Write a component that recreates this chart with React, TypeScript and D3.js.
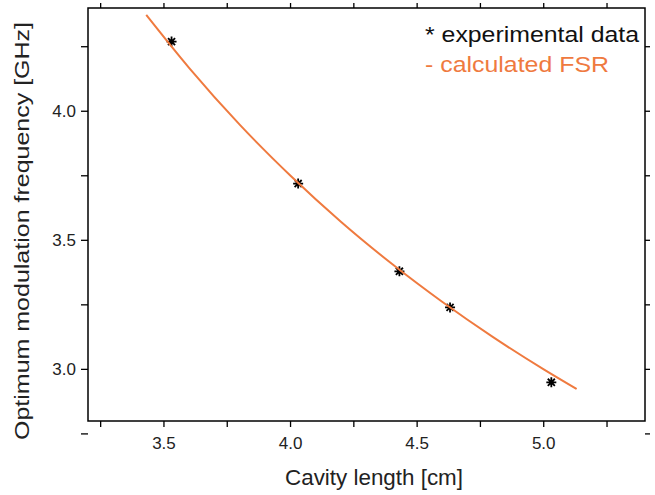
import React, { useEffect, useRef } from 'react';
import * as d3 from 'd3';

// experimental points (cavity length cm, frequency GHz)
const expLength = [3.53, 4.03, 4.43, 4.63, 5.03];
const expFreq = [4.27, 3.72, 3.38, 3.24, 2.95];

// calculated FSR curve
const fsrLength = [3.43, 3.6, 3.8, 4.0, 4.2, 4.4, 4.6, 4.8, 5.0, 5.13];
const fsrFreq = [4.373, 4.167, 3.947, 3.75, 3.571, 3.409, 3.261, 3.125, 3.0, 2.924];

const xTicks = [3.5, 4.0, 4.5, 5.0];
const xMinor = [3.25, 3.75, 4.25, 4.75, 5.25];
const yTicks = [3.0, 3.5, 4.0];
const yMinor = [2.75, 3.25, 3.75, 4.25];

const ORANGE = '#ef7a3f';
const FONT = 'Liberation Sans, Arial, sans-serif';

// 8-armed asterisk symbol
const star8 = {
  draw(context: any, size: number) {
    const r = Math.sqrt(size) / 2;
    for (let k = 0; k < 4; k++) {
      const a = (k * Math.PI) / 4;
      context.moveTo(-r * Math.cos(a), -r * Math.sin(a));
      context.lineTo(r * Math.cos(a), r * Math.sin(a));
    }
  },
};

const App = () => {
  const svgRef = useRef<SVGSVGElement>(null);

  useEffect(() => {
    const svg = d3.select(svgRef.current);
    svg.selectAll('*').remove();

    const left = 88, right = 645, top = 8, bottom = 421;
    const x = d3.scaleLinear().domain([3.2, 5.4]).range([left, right]);
    const y = d3.scaleLinear().domain([2.8, 4.4]).range([bottom, top]);

    // frame
    svg.append('rect')
      .attr('x', left).attr('y', top)
      .attr('width', right - left).attr('height', bottom - top)
      .attr('fill', 'none').attr('stroke', '#000').attr('stroke-width', 1.5);

    // bottom axis
    const bx = svg.append('g').attr('transform', `translate(0,${bottom})`);
    bx.selectAll('line').data([...xTicks, ...xMinor]).enter().append('line')
      .attr('x1', d => x(d)).attr('x2', d => x(d))
      .attr('y1', 0).attr('y2', 6)
      .attr('stroke', '#000').attr('stroke-width', 1.3);
    bx.selectAll('text').data(xTicks).enter().append('text')
      .attr('x', d => x(d)).attr('y', 28)
      .attr('text-anchor', 'middle')
      .style('font-family', FONT).style('font-size', '17px').attr('fill', '#222')
      .text(d => d.toFixed(1));

    // top ticks
    svg.append('g').selectAll('line').data([...xTicks, ...xMinor]).enter().append('line')
      .attr('x1', d => x(d)).attr('x2', d => x(d))
      .attr('y1', top - 5).attr('y2', top)
      .attr('stroke', '#000').attr('stroke-width', 1.3);

    // left axis
    const ly = svg.append('g');
    ly.selectAll('line').data([...yTicks, ...yMinor]).enter().append('line')
      .attr('x1', left - 7).attr('x2', left)
      .attr('y1', d => y(d)).attr('y2', d => y(d))
      .attr('stroke', '#000').attr('stroke-width', 1.3);
    ly.selectAll('text').data(yTicks).enter().append('text')
      .attr('x', left - 12).attr('y', d => y(d) + 6)
      .attr('text-anchor', 'end')
      .style('font-family', FONT).style('font-size', '17px').attr('fill', '#222')
      .text(d => d.toFixed(1));

    // right ticks
    svg.append('g').selectAll('line').data([...yTicks, ...yMinor]).enter().append('line')
      .attr('x1', right).attr('x2', right + 5)
      .attr('y1', d => y(d)).attr('y2', d => y(d))
      .attr('stroke', '#000').attr('stroke-width', 1.3);

    // experimental asterisks
    const sym = d3.symbol().type(star8 as any).size(100);
    svg.append('g').selectAll('path').data(expFreq).enter().append('path')
      .attr('d', sym)
      .attr('transform', (d, i) => `translate(${x(expLength[i])},${y(d)})`)
      .attr('fill', 'none').attr('stroke', '#000').attr('stroke-width', 1.8);

    // calculated FSR line
    const line = d3.line<number>()
      .x((d, i) => x(fsrLength[i]))
      .y(d => y(d))
      .curve(d3.curveMonotoneX);
    svg.append('path')
      .datum(fsrFreq)
      .attr('d', line)
      .attr('fill', 'none')
      .attr('stroke', ORANGE)
      .attr('stroke-width', 2);

    // legend
    svg.append('text')
      .attr('x', 425).attr('y', 42)
      .attr('textLength', 214).attr('lengthAdjust', 'spacingAndGlyphs')
      .style('font-family', FONT).style('font-size', '22px').attr('fill', '#111')
      .text('* experimental data');
    svg.append('text')
      .attr('x', 425).attr('y', 72)
      .attr('textLength', 184).attr('lengthAdjust', 'spacingAndGlyphs')
      .style('font-family', FONT).style('font-size', '22px').attr('fill', ORANGE)
      .text('- calculated FSR');

    // axis titles
    svg.append('text')
      .attr('x', 285).attr('y', 485)
      .attr('textLength', 178).attr('lengthAdjust', 'spacingAndGlyphs')
      .style('font-family', FONT).style('font-size', '22px').attr('fill', '#222')
      .text('Cavity length [cm]');
    svg.append('text')
      .attr('transform', 'translate(29,440) rotate(-90)')
      .attr('textLength', 418).attr('lengthAdjust', 'spacingAndGlyphs')
      .style('font-family', FONT).style('font-size', '21px').attr('fill', '#222')
      .text('Optimum modulation frequency [GHz]');
  }, []);

  return (
    <svg
      ref={svgRef}
      width={655}
      height={495}
      style={{ position: 'absolute', left: 0, top: 0, background: '#fff' }}
    />
  );
};

export default App;
